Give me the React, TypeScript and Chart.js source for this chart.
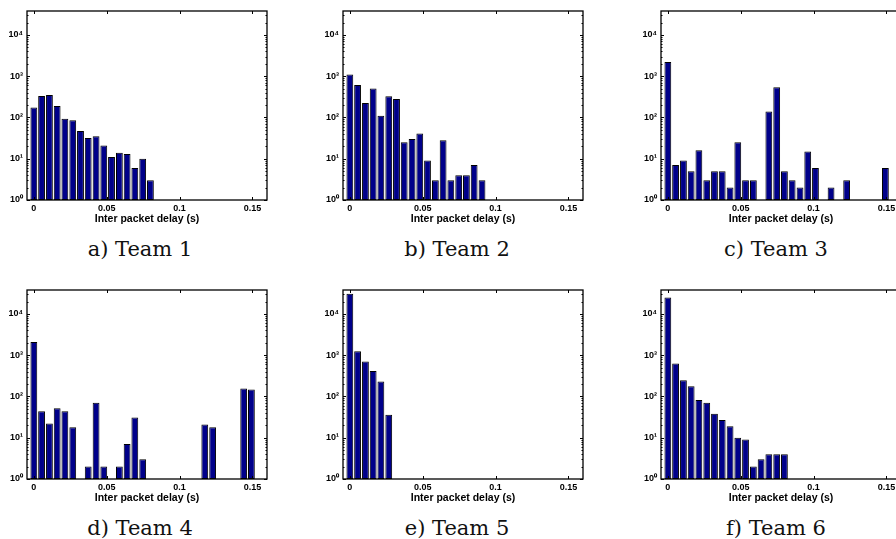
import React, { useEffect, useRef } from "react";
import { Chart, registerables } from "chart.js";

Chart.register(...registerables);

// Shared histogram bin centres (s)
const binCenters = [
  0, 0.0053, 0.0107, 0.016, 0.0213, 0.0267, 0.032, 0.0373, 0.0427, 0.048,
  0.0533, 0.0587, 0.064, 0.0693, 0.0747, 0.08, 0.0853, 0.0907, 0.096, 0.1013,
  0.1067, 0.112, 0.1173, 0.1227, 0.128, 0.1333, 0.1387, 0.144, 0.1493,
];

const team1 = [175, 330, 350, 190, 93, 86, 47, 32, 35, 21, 11, 14, 13, 6, 10, 3];
const team2 = [1100, 610, 225, 500, 110, 325, 280, 25, 30, 41, 9, 3, 28, 3, 4, 4, 7, 3];
const team3 = [2200, 7, 9, 5, 16, 3, 5, 5, 2, 25, 3, 3, null, 140, 540, 5, 3, 2, 15, 6, null, 2, null, 3, null, null, null, null, 6];
const team4 = [2100, 44, 22, 52, 44, 18, null, 2, 70, 2, null, 2, 7, 31, 3, null, null, null, null, null, null, null, 21, 18, null, null, null, 155, 147];
const team5 = [31000, 1250, 700, 415, 230, 36];
const team6 = [25000, 625, 247, 176, 82, 70, 38, 27, 19, 10, 9, 2, 3, 4, 4, 4];

const captions = ["a) Team 1", "b) Team 2", "c) Team 3", "d) Team 4", "e) Team 5", "f) Team 6"];
const xTicks = [0, 0.05, 0.1, 0.15];
const xTickLabels = ["0", "0.05", "0.1", "0.15"];
const yTicks = [1, 10, 100, 1000, 10000];
const yTickLabels = ["10\u2070", "10\u00b9", "10\u00b2", "10\u00b3", "10\u2074"];
const xTitle = "Inter packet delay (s)";

const series = [team1, team2, team3, team4, team5, team6];

// layout (plot rectangles)
const colL = [27, 343, 661];
const rowT = [11, 290];
const PLOT_W = 240;
const PLOT_H = 189;
const captionCX = [140, 457, 776];
const captionCY = [249, 528];

const PAD_L = 36;
const PAD_T = 6;
const PAD_R = 8;
const AX_H = 26;

const boxPlugin = {
  id: "matlabBox",
  afterDraw(chart: any) {
    const { ctx, chartArea } = chart;
    const xs = chart.scales.x;
    const ys = chart.scales.y;
    const { left, right, top, bottom } = chartArea;
    ctx.save();
    ctx.strokeStyle = "#000";
    ctx.lineWidth = 1;
    ctx.beginPath();
    xTicks.forEach((v) => {
      const px = Math.round(xs.getPixelForValue(v)) + 0.5;
      ctx.moveTo(px, bottom);
      ctx.lineTo(px, bottom - 3);
      ctx.moveTo(px, top);
      ctx.lineTo(px, top + 3);
    });
    for (let d = 0; d < 5; d++) {
      for (let m = 1; m < 10; m++) {
        const v = m * Math.pow(10, d);
        if (v > ys.max) continue;
        const py = Math.round(ys.getPixelForValue(v)) + 0.5;
        const len = m === 1 ? 3 : 1.5;
        ctx.moveTo(left, py);
        ctx.lineTo(left + len, py);
        ctx.moveTo(right, py);
        ctx.lineTo(right - len, py);
      }
    }
    ctx.stroke();
    ctx.lineWidth = 1.3;
    ctx.strokeRect(left, top, right - left, bottom - top);
    ctx.restore();
  },
};

function zeroPad(s: any) {
  s.paddingTop = 0;
  s.paddingBottom = 0;
  s.paddingLeft = 0;
  s.paddingRight = 0;
}

function Panel({ idx }: { idx: number }) {
  const ref = useRef<HTMLCanvasElement | null>(null);
  const col = idx % 3;
  const row = Math.floor(idx / 3);
  const cw = PLOT_W + PAD_L + PAD_R;
  const ch = PLOT_H + PAD_T + AX_H;
  useEffect(() => {
    const values = series[idx];
    const data = binCenters
      .map((x, i) => ({ x, y: values[i] }))
      .filter((p) => p.y !== null && p.y !== undefined);
    const chart = new Chart(ref.current as HTMLCanvasElement, {
      type: "bar",
      data: {
        datasets: [
          {
            data: data as any,
            backgroundColor: "#00008a",
            borderColor: "#000000",
            borderWidth: 1,
            borderSkipped: false,
            barPercentage: 0.88,
            categoryPercentage: 1,
          },
        ],
      },
      options: {
        animation: false,
        responsive: false,
        devicePixelRatio: 1,
        layout: { padding: { left: 0, top: PAD_T, right: PAD_R, bottom: 0 } },
        plugins: { legend: { display: false }, tooltip: { enabled: false } },
        scales: {
          x: {
            type: "linear",
            min: -0.0047,
            max: 0.16,
            offset: false,
            grid: { display: false, drawTicks: false, offset: false },
            border: { display: false },
            afterBuildTicks: (s: any) => {
              s.ticks = xTicks.map((v) => ({ value: v }));
            },
            afterFit: (s: any) => {
              s.height = AX_H;
              zeroPad(s);
            },
            ticks: {
              autoSkip: false,
              maxRotation: 0,
              padding: 3,
              color: "#000",
              font: { family: "Liberation Sans, Arial", size: 9, weight: "bold" },
              callback: (v: any) => {
                const i = xTicks.indexOf(Number(v));
                return i >= 0 ? xTickLabels[i] : "";
              },
            },
            title: {
              display: true,
              text: xTitle,
              color: "#000",
              padding: { top: 0, bottom: 1 },
              font: { family: "Liberation Sans, Arial", size: 10.5, weight: "bold" },
            },
          },
          y: {
            type: "logarithmic",
            min: 1,
            max: 38000,
            grid: { display: false, drawTicks: false },
            border: { display: false },
            afterBuildTicks: (s: any) => {
              s.ticks = yTicks.map((v) => ({ value: v, major: true }));
            },
            afterFit: (s: any) => {
              s.width = PAD_L;
              zeroPad(s);
            },
            ticks: {
              autoSkip: false,
              padding: 4,
              color: "#000",
              font: { family: "Liberation Sans, Arial", size: 9, weight: "bold" },
              callback: (v: any) => {
                const i = yTicks.indexOf(Number(v));
                return i >= 0 ? yTickLabels[i] : "";
              },
            },
          },
        },
      },
      plugins: [boxPlugin],
    });
    return () => chart.destroy();
  }, [idx]);
  return (
    <canvas
      ref={ref}
      width={cw}
      height={ch}
      style={{
        position: "absolute",
        left: colL[col] - PAD_L,
        top: rowT[row] - PAD_T,
        width: cw,
        height: ch,
      }}
    />
  );
}

export default function App() {
  return (
    <div
      style={{
        position: "fixed",
        left: 0,
        top: 0,
        width: 896,
        height: 539,
        overflow: "hidden",
        background: "#fff",
      }}
    >
      {captions.map((_, i) => (
        <Panel key={i} idx={i} />
      ))}
      {captions.map((c, i) => (
        <div
          key={"c" + i}
          style={{
            position: "absolute",
            left: captionCX[i % 3] - 80,
            width: 160,
            top: captionCY[Math.floor(i / 3)] - 13,
            height: 26,
            lineHeight: "26px",
            textAlign: "center",
            fontFamily: "'DejaVu Serif', serif",
            fontSize: 21,
            color: "#111",
            whiteSpace: "nowrap",
          }}
        >
          {c}
        </div>
      ))}
    </div>
  );
}
